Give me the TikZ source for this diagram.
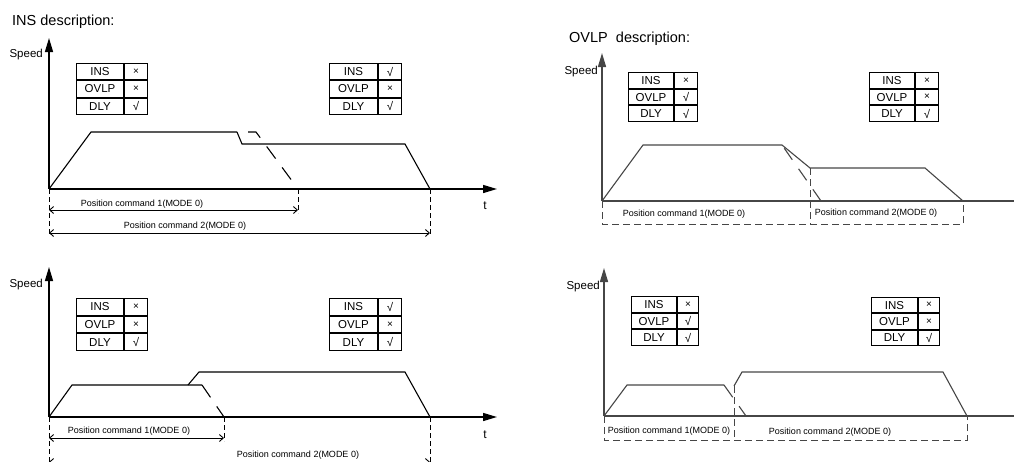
\documentclass[tikz,border=0pt]{standalone}
\usepackage{fontspec}
\setmainfont{Liberation Sans}
\usetikzlibrary{arrows.meta}
\newcommand\symX{{\fontsize{10}{11}\selectfont ×}}
\newcommand\symV{√}
\newcommand\stable[9]{%
  \node[cell, minimum width=#4pt, minimum height=#6pt] (#1a) at (#2,#3) {INS};
  \node[cell, minimum width=#5pt, minimum height=#6pt] (#1b) at (#1a.north east) {#7};
  \node[cell, minimum width=#4pt, minimum height=#6pt] (#1c) at (#1a.south west) {OVLP};
  \node[cell, minimum width=#5pt, minimum height=#6pt] (#1d) at (#1c.north east) {#8};
  \node[cell, minimum width=#4pt, minimum height=#6pt] (#1e) at (#1c.south west) {DLY};
  \node[cell, minimum width=#5pt, minimum height=#6pt] (#1f) at (#1e.north east) {#9};
}
\definecolor{rline}{RGB}{70,70,70}
\begin{document}
\begin{tikzpicture}[x=1pt,y=-1pt,
  axis/.style={line width=1.4pt, -{Triangle[length=14pt,width=8pt]}},
  prof/.style={line width=1.1pt},
  dprof/.style={line width=1.1pt, dash pattern=on 15pt off 11pt},
  ext/.style={line width=0.9pt, dash pattern=on 5pt off 3pt},
  boxd/.style={line width=1pt, rline, dash pattern=on 7pt off 4pt},
  dim/.style={line width=0.9pt, {Straight Barb[length=4pt,width=7pt]}-{Straight Barb[length=4pt,width=7pt]}},
  lbl/.style={font=\fontsize{9}{10}\selectfont, inner sep=0},
  ttl/.style={font=\fontsize{14.5}{16}\selectfont, anchor=base west, inner sep=0},
  spd/.style={font=\fontsize{11.5}{13}\selectfont, anchor=east, inner sep=0},
  tlab/.style={font=\fontsize{12}{13}\selectfont, inner sep=0},
  cell/.style={draw, line width=1pt, inner sep=0, anchor=north west, font=\fontsize{11.5}{13}\selectfont}
]
\useasboundingbox (0,0) rectangle (1014,461);
\clip (0,0) rectangle (1014,461);

% ================= INS description =================
\node[ttl] (ttlA) at (12,25) {INS description:};

% ---- top-left graph ----
\coordinate (o1) at (49,189);
\coordinate (y1) at (49,38);
\coordinate (x1) at (497,189);
\draw[axis] (o1) -- (y1);
\draw[axis] (o1) -- (x1);
\node[spd] (s1) at (43,55) {Speed};
\node[tlab] (t1) at (485,206) {t};
\stable{tA}{76}{63}{47}{23}{16.3}{\symX}{\symX}{\symV}
\stable{tB}{329}{63}{48}{23}{16.3}{\symV}{\symX}{\symV}
\coordinate (p1a) at (91,132);
\coordinate (p1b) at (237,132);
\coordinate (p1c) at (256,132);
\coordinate (p1d) at (298,189);
\coordinate (p2a) at (242,144);
\coordinate (p2b) at (405,144);
\coordinate (p2c) at (430,189);
\draw[prof] (o1) -- (p1a) -- (p1b);
\draw[dprof, dash phase=15pt] (p1b) -- (p1c) -- (p1d);
\draw[prof] (p1b) -- (p2a) -- (p2b) -- (p2c);
\coordinate (e1a) at (49,236);
\coordinate (e1b) at (298,213);
\coordinate (e1c) at (430,236);
\draw[ext] (o1) -- (e1a);
\draw[ext] (p1d) -- (e1b);
\draw[ext] (p2c) -- (e1c);
\coordinate (d1l) at (49,210);
\coordinate (d1r) at (298,210);
\coordinate (d2l) at (49,233);
\coordinate (d2r) at (430,233);
\draw[dim] (d1l) -- (d1r);
\draw[dim] (d2l) -- (d2r);
\node[lbl] (c1) at (142,204) {Position command 1(MODE 0)};
\node[lbl] (c2) at (185,226) {Position command 2(MODE 0)};

% ---- bottom-left graph ----
\coordinate (o3) at (49,417);
\coordinate (y3) at (49,267);
\coordinate (x3) at (497,417);
\draw[axis] (o3) -- (y3);
\draw[axis] (o3) -- (x3);
\node[spd] (s3) at (43,285) {Speed};
\node[tlab] (t3) at (485,435) {t};
\stable{tC}{76}{298}{47}{23}{16.7}{\symX}{\symX}{\symV}
\stable{tD}{329}{298}{48}{23}{16.7}{\symV}{\symX}{\symV}
\coordinate (q1a) at (72,385);
\coordinate (q1b) at (202,385);
\coordinate (q1c) at (224,417);
\coordinate (q2s) at (188,385);
\coordinate (q2a) at (199,372);
\coordinate (q2b) at (405,372);
\coordinate (q2c) at (430,417);
\draw[prof] (o3) -- (q1a) -- (q1b);
\draw[dprof] (q1b) -- (q1c);
\draw[prof] (q2s) -- (q2a) -- (q2b) -- (q2c);
\coordinate (e3a) at (49,463);
\coordinate (e3b) at (224,441);
\coordinate (e3c) at (430,463);
\draw[ext] (o3) -- (e3a);
\draw[ext] (q1c) -- (e3b);
\draw[ext] (q2c) -- (e3c);
\coordinate (d3l) at (49,438);
\coordinate (d3r) at (224,438);
\coordinate (d4l) at (49,462);
\coordinate (d4r) at (430,462);
\draw[dim] (d3l) -- (d3r);
\draw[dim] (d4l) -- (d4r);
\node[lbl] (c3) at (129,431) {Position command 1(MODE 0)};
\node[lbl] (c4) at (298,455) {Position command 2(MODE 0)};

% ================= OVLP description =================
\node[ttl] (ttlB) at (569,42) {OVLP\ \ description:};

% ---- top-right graph ----
\coordinate (o5) at (602,201);
\coordinate (y5) at (602,53);
\coordinate (x5) at (1016,201);
\draw[axis, rline] (o5) -- (y5);
\draw[line width=1.4pt, rline] (o5) -- (x5);
\node[spd] (s5) at (598,72) {Speed};
\stable{tE}{628}{72}{45}{23}{15.7}{\symX}{\symV}{\symV}
\stable{tF}{869}{72}{45}{23}{15.7}{\symX}{\symX}{\symV}
\coordinate (r1a) at (643,145);
\coordinate (r1b) at (782,145);
\coordinate (r1c) at (821,201);
\coordinate (r2a) at (810,168);
\coordinate (r2b) at (925,168);
\coordinate (r2c) at (963,201);
\draw[prof, rline] (o5) -- (r1a) -- (r1b);
\draw[dprof, rline, dash pattern=on 14pt off 11pt, dash phase=-4pt] (r1b) -- (r1c);
\draw[prof, rline] (r1b) -- (r2a) -- (r2b) -- (r2c);
\coordinate (b5a) at (602,224);
\coordinate (b5b) at (963,224);
\coordinate (b5c) at (810,224);
\draw[boxd] (o5) -- (b5a) -- (b5b) -- (r2c);
\draw[boxd] (r2a) -- (b5c);
\node[lbl] (c5) at (684,214) {Position command 1(MODE 0)};
\node[lbl] (c6) at (876,213) {Position command 2(MODE 0)};

% ---- bottom-right graph ----
\coordinate (o7) at (604,416);
\coordinate (y7) at (604,268);
\coordinate (x7) at (1016,416);
\draw[axis, rline] (o7) -- (y7);
\draw[line width=1.4pt, rline] (o7) -- (x7);
\node[spd] (s7) at (600,287) {Speed};
\stable{tG}{631}{296}{45}{21}{15.7}{\symX}{\symV}{\symV}
\stable{tH}{871}{297}{46}{21}{15.3}{\symX}{\symX}{\symV}
\coordinate (u1a) at (627,385);
\coordinate (u1b) at (724,385);
\coordinate (u1c) at (746,416);
\coordinate (u2s) at (734,386);
\coordinate (u2a) at (742,372);
\coordinate (u2b) at (943,372);
\coordinate (u2c) at (967,416);
\draw[prof, rline] (o7) -- (u1a) -- (u1b);
\draw[dprof, rline] (u1b) -- (u1c);
\draw[prof, rline] (u2s) -- (u2a) -- (u2b) -- (u2c);
\coordinate (b7a) at (604,440);
\coordinate (b7b) at (967,440);
\coordinate (b7c) at (734,440);
\draw[boxd] (o7) -- (b7a) -- (b7b) -- (u2c);
\draw[boxd] (u2s) -- (b7c);
\node[lbl] (c7) at (669,431) {Position command 1(MODE 0)};
\node[lbl] (c8) at (830,432) {Position command 2(MODE 0)};
\end{tikzpicture}
\end{document}
